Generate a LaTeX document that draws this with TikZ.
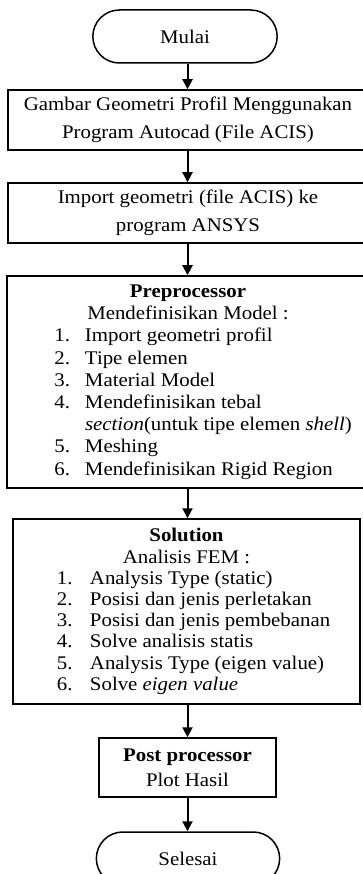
\documentclass[tikz,border=0pt]{standalone}
\usepackage{fontspec}
\setmainfont{Liberation Serif}[FakeStretch=1.08]
\usepackage{tikz}
\usetikzlibrary{arrows.meta,shapes.misc}

\newlength\listw
\newlength\listgap
\newcommand{\litem}[2]{\makebox[\listw][l]{\makebox[16pt][r]{#1}\hspace{\listgap}#2}}

\begin{document}
\begin{tikzpicture}[x=1pt,y=-1pt,>={Triangle[length=10pt,width=10pt]},
  font=\fontsize{19.3}{22.2}\selectfont,
  block/.style={draw,line width=1.5pt,minimum height=60pt,align=center},
  listbox/.style 2 args={block,/utils/exec={\setlength\listw{#1}\setlength\listgap{#2}}},
  term/.style={draw,rounded rectangle,line width=1.5pt,minimum width=191pt,minimum height=53pt},
  flow/.style={->,line width=2pt}]
  \useasboundingbox (0,0) rectangle (363,874);

  \node[term] (mulai) at (185,36.5) {Mulai};
  \node[block,minimum width=364pt,font=\fontsize{19.3}{27.7}\selectfont] (gambar) at (190,120)
    {\hspace*{-4pt}Gambar Geometri Profil Menggunakan\\ \hspace*{-4pt}Program Autocad (File ACIS)};
  \node[block,minimum width=364pt,font=\fontsize{19.3}{27.5}\selectfont] (import) at (190,213)
    {\hspace*{-4pt}Import geometri (file ACIS) ke\\ \hspace*{-4pt}program ANSYS};
  \node[listbox={268pt}{15pt},minimum width=370pt,minimum height=212pt] (pre) at (192,382)
    {\hspace*{-8pt}\textbf{Preprocessor}\\
     \hspace*{-8pt}Mendefinisikan Model :\\
     \hspace*{-8pt}\litem{1.}{Import geometri profil}\\
     \hspace*{-8pt}\litem{2.}{Tipe elemen}\\
     \hspace*{-8pt}\litem{3.}{Material Model}\\
     \hspace*{-8pt}\litem{4.}{Mendefinisikan tebal}\\
     \hspace*{-8pt}\litem{}{\textit{section}(untuk tipe elemen \textit{shell})}\\
     \hspace*{-8pt}\litem{5.}{Meshing}\\
     \hspace*{-8pt}\litem{6.}{Mendefinisikan Rigid Region}};
  \node[listbox={260pt}{17.5pt},minimum width=347pt,minimum height=185pt,
    font=\fontsize{19.3}{21.2}\selectfont] (sol) at (186.5,611.5)
    {\textbf{Solution}\\
     Analisis FEM :\\
     \litem{1.}{Analysis Type (static)}\\
     \litem{2.}{Posisi dan jenis perletakan}\\
     \litem{3.}{Posisi dan jenis pembebanan}\\
     \litem{4.}{Solve analisis statis}\\
     \litem{5.}{Analysis Type (eigen value)}\\
     \litem{6.}{Solve \textit{eigen value}}};
  \node[block,minimum width=177pt,minimum height=59pt,font=\fontsize{19.3}{25}\selectfont] (post) at (187.5,767.5)
    {\textbf{Post processor}\\ Plot Hasil};
  \node[term,minimum width=190pt] (selesai) at (188,858.5) {Selesai};

  % alur
  \foreach \a/\b in {mulai/gambar,gambar/import,import/pre,pre/sol,sol/post,post/selesai}
    \draw[flow] (\a.south -| post) -- (\b.north -| post);
\end{tikzpicture}
\end{document}
